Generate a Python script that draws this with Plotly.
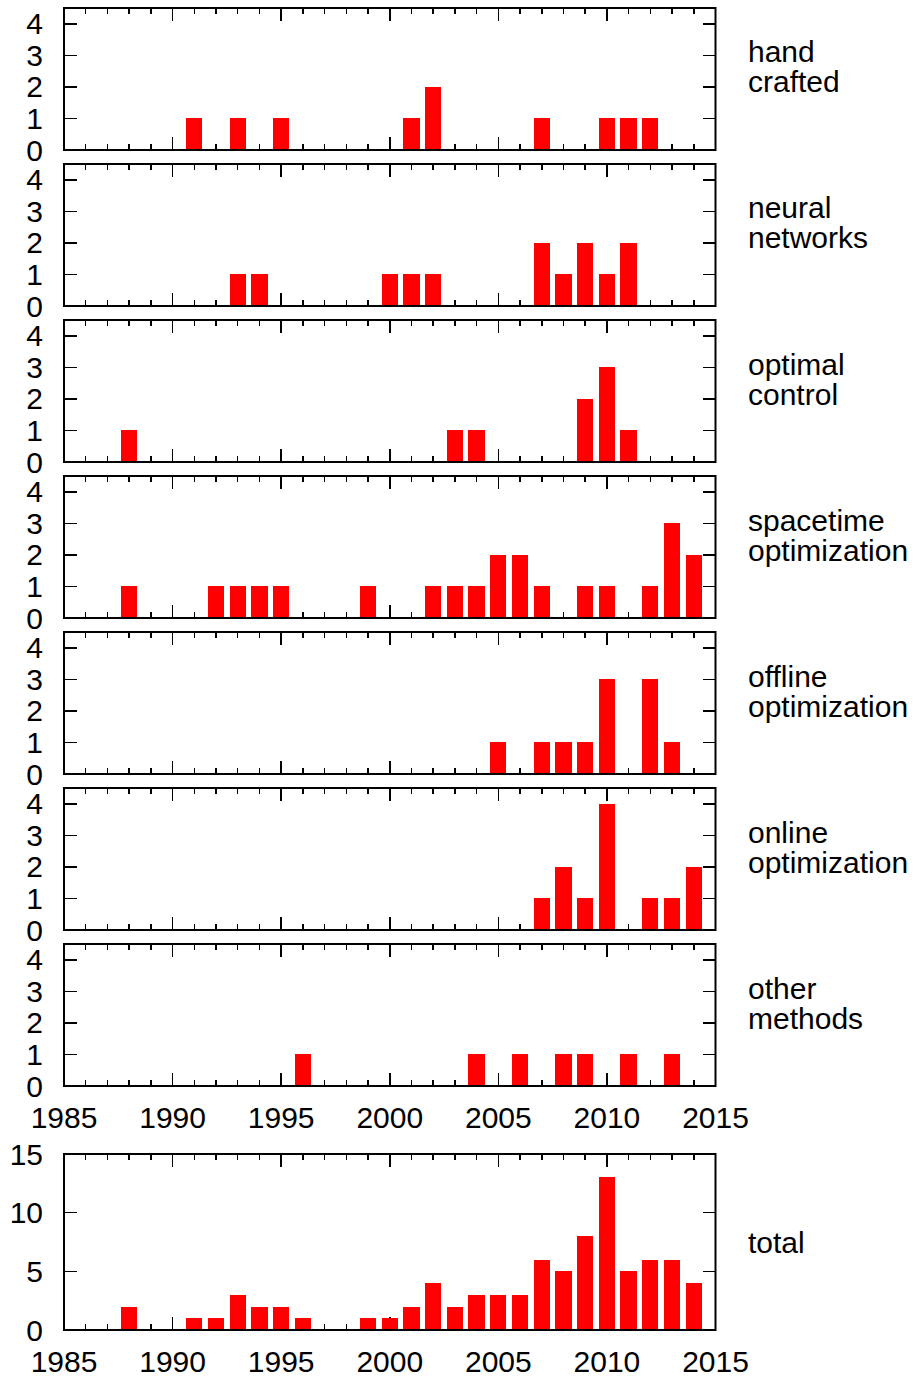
import plotly.graph_objects as go

# ---------------- data ----------------
panel_labels = [
    ["hand", "crafted"],
    ["neural", "networks"],
    ["optimal", "control"],
    ["spacetime", "optimization"],
    ["offline", "optimization"],
    ["online", "optimization"],
    ["other", "methods"],
    ["total"],
]

hand_years = [1991, 1993, 1995, 2001, 2002, 2007, 2010, 2011, 2012]
hand_counts = [1, 1, 1, 1, 2, 1, 1, 1, 1]

neural_years = [1993, 1994, 2000, 2001, 2002, 2007, 2008, 2009, 2010, 2011]
neural_counts = [1, 1, 1, 1, 1, 2, 1, 2, 1, 2]

optimal_years = [1988, 2003, 2004, 2009, 2010, 2011]
optimal_counts = [1, 1, 1, 2, 3, 1]

spacetime_years = [1988, 1992, 1993, 1994, 1995, 1999, 2002, 2003, 2004, 2005,
                   2006, 2007, 2009, 2010, 2012, 2013, 2014]
spacetime_counts = [1, 1, 1, 1, 1, 1, 1, 1, 1, 2, 2, 1, 1, 1, 1, 3, 2]

offline_years = [2005, 2007, 2008, 2009, 2010, 2012, 2013]
offline_counts = [1, 1, 1, 1, 3, 3, 1]

online_years = [2007, 2008, 2009, 2010, 2012, 2013, 2014]
online_counts = [1, 2, 1, 4, 1, 1, 2]

other_years = [1996, 2004, 2006, 2008, 2009, 2011, 2013]
other_counts = [1, 1, 1, 1, 1, 1, 1]

total_years = [1988, 1991, 1992, 1993, 1994, 1995, 1996, 1999, 2000, 2001, 2002,
               2003, 2004, 2005, 2006, 2007, 2008, 2009, 2010, 2011, 2012, 2013, 2014]
total_counts = [2, 1, 1, 3, 2, 2, 1, 1, 1, 2, 4, 2, 3, 3, 3, 6, 5, 8, 13, 5, 6, 6, 4]

x_ticks = [1985, 1990, 1995, 2000, 2005, 2010, 2015]

series = [
    (hand_years, hand_counts),
    (neural_years, neural_counts),
    (optimal_years, optimal_counts),
    (spacetime_years, spacetime_counts),
    (offline_years, offline_counts),
    (online_years, online_counts),
    (other_years, other_counts),
    (total_years, total_counts),
]

# ---------------- layout geometry (pixels) ----------------
W, H = 918, 1380
X0, X1 = 64, 715.5
panel_px = [(8 + 156 * i, 150 + 156 * i) for i in range(7)] + [(1154, 1330)]

FONT = "Liberation Sans, Arial, Helvetica, sans-serif"
FS = 30

fig = go.Figure()
layout = dict(
    width=W, height=H,
    margin=dict(l=0, r=0, t=0, b=0, autoexpand=False),
    paper_bgcolor="white", plot_bgcolor="white",
    showlegend=False, bargap=0, hovermode=False,
    font=dict(family=FONT, size=FS, color="black"),
)
annotations = []
shapes = []

for i, ((yrs, cnts), (top, bot)) in enumerate(zip(series, panel_px)):
    n = "" if i == 0 else str(i + 1)
    fig.add_trace(go.Bar(
        x=yrs, y=cnts, width=0.75,
        marker=dict(color="#ff0000", line=dict(width=0)),
        xaxis="x" + n, yaxis="y" + n,
    ))
    is_total = (i == 7)
    show_x = i >= 6
    layout["xaxis" + n] = dict(
        domain=[X0 / W, X1 / W], anchor="y" + n,
        range=[1985, 2015], tickmode="array", tickvals=x_ticks,
        ticktext=[str(v) for v in x_ticks],
        showticklabels=show_x, automargin=False,
        ticks="inside", ticklen=13, tickwidth=1.5, tickcolor="black",
        minor=dict(ticks="inside", ticklen=6, tickwidth=1.5, tickcolor="black",
                   dtick=1, tick0=1985, showgrid=False),
        mirror="ticks", showline=False, showgrid=False, zeroline=False,
        layer="below traces", ticklabelstandoff=11,
        tickfont=dict(family=FONT, size=FS, color="black"),
    )
    layout["yaxis" + n] = dict(
        domain=[1 - bot / H, 1 - top / H], anchor="x" + n,
        range=[0, 15] if is_total else [0, 4.5],
        tickmode="linear", tick0=0, dtick=5 if is_total else 1,
        automargin=False,
        ticks="inside", ticklen=13, tickwidth=1.5, tickcolor="black",
        mirror="ticks", showline=False, showgrid=False, zeroline=False,
        layer="below traces", ticklabelstandoff=20,
        tickfont=dict(family=FONT, size=FS, color="black"),
    )
    shapes.append(dict(
        type="rect", xref="x" + n + " domain", yref="y" + n + " domain",
        x0=0, x1=1, y0=0, y1=1, line=dict(color="black", width=2),
        fillcolor="rgba(0,0,0,0)", layer="above",
    ))
    # right-hand labels
    lines = panel_labels[i]
    c = (top + bot) / 2
    if len(lines) == 1:
        ys = [c]
    else:
        ys = [c - 27, c + 3]
    for txt, yp in zip(lines, ys):
        annotations.append(dict(
            text=txt, x=746 / W, y=1 - yp / H, xref="paper", yref="paper",
            xanchor="left", yanchor="middle", showarrow=False,
            font=dict(family=FONT, size=FS, color="black"),
        ))

layout["annotations"] = annotations
layout["shapes"] = shapes
fig.update_layout(**layout)
fig.write_html(
    "out.html",
    config={"displayModeBar": False, "staticPlot": True},
    post_script="document.body.style.margin='0';document.body.style.padding='0';",
)
